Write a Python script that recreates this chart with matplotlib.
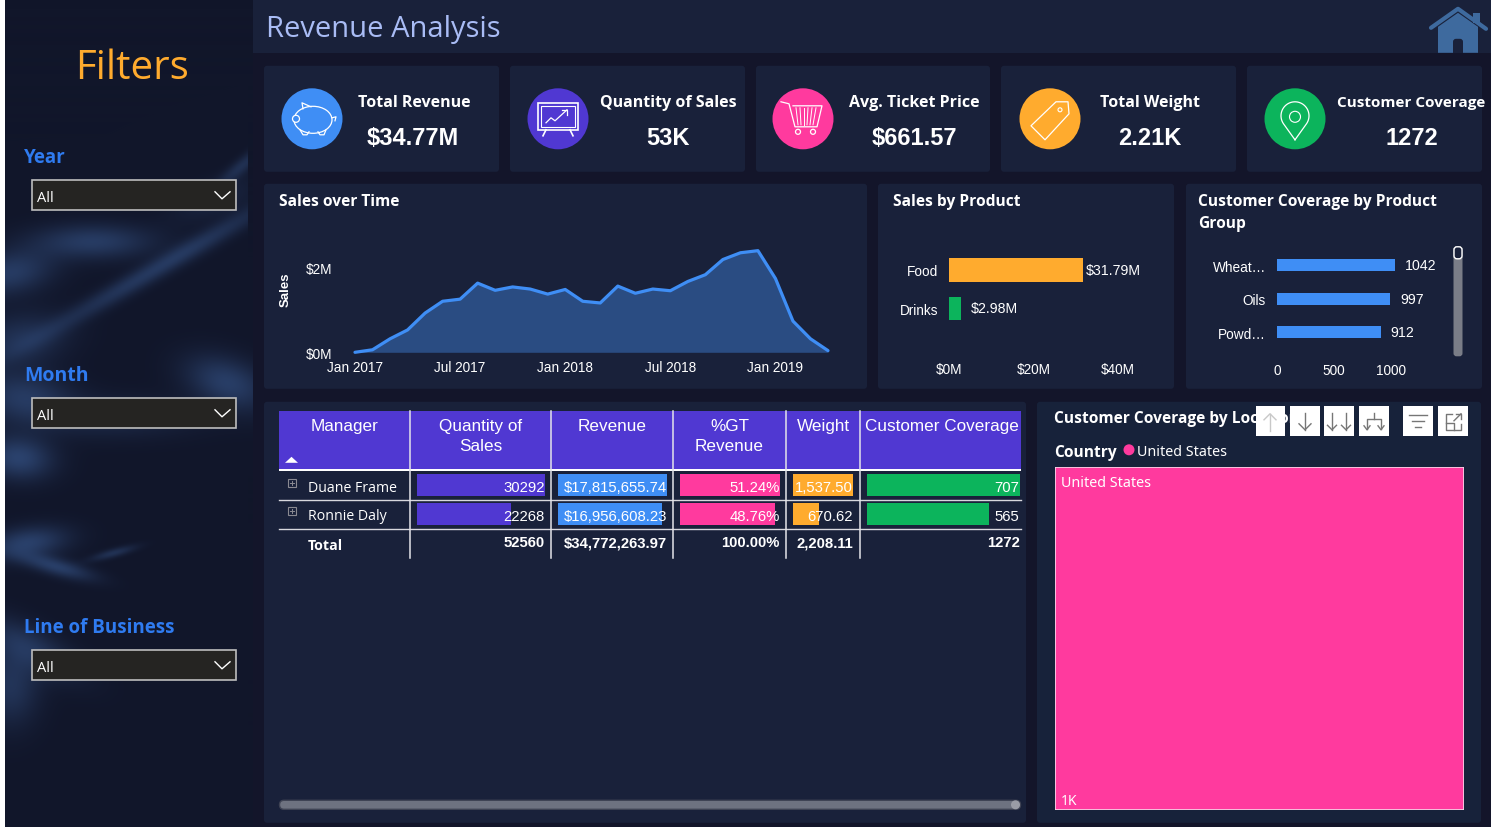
"""Revenue Analysis dashboard, redrawn with matplotlib."""
import numpy as np
import matplotlib
matplotlib.use("Agg")
import matplotlib.pyplot as plt
from matplotlib.patches import Rectangle, Ellipse, Circle, FancyBboxPatch, Polygon

W, H = 1491, 828
ARIAL = "Liberation Sans"
UI = "Open Sans"
plt.rcParams["font.family"] = ARIAL

# chart data
months = ["Jan 2017", "Feb 2017", "Mar 2017", "Apr 2017", "May 2017", "Jun 2017", "Jul 2017",
          "Aug 2017", "Sep 2017", "Oct 2017", "Nov 2017", "Dec 2017", "Jan 2018", "Feb 2018",
          "Mar 2018", "Apr 2018", "May 2018", "Jun 2018", "Jul 2018", "Aug 2018", "Sep 2018",
          "Oct 2018", "Nov 2018", "Dec 2018", "Jan 2019", "Feb 2019", "Mar 2019", "Apr 2019"]
sales_m = [0.0, 0.06, 0.32, 0.53, 0.93, 1.21, 1.26, 1.64, 1.47, 1.55, 1.50, 1.38, 1.49, 1.21,
           1.17, 1.57, 1.40, 1.50, 1.46, 1.68, 1.84, 2.20, 2.36, 2.41, 1.75, 0.74, 0.32, 0.04]
products = ["Food", "Drinks"]
product_sales = [31.79, 2.98]
groups = ["Wheat…", "Oils", "Powd…"]
group_cover = [1042, 997, 912]

kpi_titles = ["Total Revenue", "Quantity of Sales", "Avg. Ticket Price", "Total Weight", "Customer Coverage"]
kpi_values = ["$34.77M", "53K", "$661.57", "2.21K", "1272"]

managers = ["Duane Frame", "Ronnie Daly"]
qty = [30292, 22268]
revenue = [17815655.74, 16956608.23]
gt_pct = [51.24, 48.76]
weight = [1537.50, 670.62]
coverage = [707, 565]
qty_total = 52560
revenue_total = 34772263.97
gt_total = 100.00
weight_total = 2208.11
coverage_total = 1272
country = "United States"
country_cover = 1272

# colours
PAGE = "#13152A"
CARD = "#19213A"
CARD2 = "#17223A"
PURPLE = "#5038D2"
BLUE = "#3F8EF5"
PINK = "#FF3A9E"
ORANGE = "#FFAB2E"
GREEN = "#0CB45C"
YSHIFT = 0.8  # the whole layout sits a hair lower than the round pixel numbers

fig = plt.figure(figsize=(W / 100, H / 100), dpi=100, facecolor=PAGE)
ax = fig.add_axes([0, 0, 1, 1])
ax.axis("off")


def sub_axes(x0, y0, x1, y1):
    y0 += YSHIFT
    y1 += YSHIFT
    a = fig.add_axes([x0 / W, 1 - y1 / H, (x1 - x0) / W, (y1 - y0) / H], zorder=5)
    a.patch.set_alpha(0)
    for s in a.spines.values():
        s.set_visible(False)
    a.tick_params(length=0, colors="white", labelsize=9.8)
    return a


def text(x, y, s, size=10, color="white", ha="left", va="center", weight="normal", family=ARIAL, z=6, **kw):
    ax.text(x, y + 2, s, fontsize=size, color=color, ha=ha, va=va, fontweight=weight, family=family, zorder=z, **kw)


def panel(x0, y0, x1, y1, color=CARD):
    ax.add_patch(FancyBboxPatch((x0 + 3, y0 + 3), x1 - x0 - 6, y1 - y0 - 6, boxstyle="round,pad=3,rounding_size=3",
                                fc=color, ec="none", zorder=1))


# left filter pane: dark background with blurred shapes
blobs = [(93, 242, 42, 12, 0, .8), (160, 267, 95, 7, -30, .75), (243, 165, 22, 5, -40, .55), (10, 273, 30, 15, -10, .8),
         (20, 340, 32, 18, -10, .6), (227, 383, 30, 17, 20, .85), (23, 397, 32, 17, 5, .75), (110, 418, 60, 14, 0, .4),
         (18, 458, 24, 15, 5, .95), (27, 543, 28, 11, -8, .9), (57, 567, 26, 6, 15, .85), (113, 553, 16, 3, -15, .6),
         (30, 648, 38, 14, 28, .6), (10, 685, 20, 28, 0, .65), (215, 200, 32, 12, -20, .3)]
yy, xx = np.mgrid[0:H, 5:253]
glow = np.zeros(xx.shape)
for bx, by, sx, sy, ang, amp in blobs:
    t = np.radians(ang)
    u = (xx - bx) * np.cos(t) + (yy - by) * np.sin(t)
    v = -(xx - bx) * np.sin(t) + (yy - by) * np.cos(t)
    glow += amp * np.exp(-0.5 * ((u / sx) ** 2 + (v / sy) ** 2))
glow = np.clip(glow, 0, 1)
glow[((yy < 258) | ((yy > 475) & (yy < 728))) & (xx >= 248)] = 0
glow = glow[..., None]
base = np.array([0x11, 0x16, 0x2A]) / 255
lit = np.array([0x2C, 0x44, 0x70]) / 255
ax.imshow(base * (1 - glow) + lit * glow, extent=(5, 253, H, 0), aspect="auto", zorder=0.5)
ax.add_patch(Rectangle((0, -2), 5, H + 4, fc="white", ec="none", zorder=0.6))

text(132, 66, "Filters", size=29, color=ORANGE, ha="center", family=UI)
for label, ly, by, sz in [("Year", 155, 180, 13.5), ("Month", 373, 398, 14), ("Line of Business", 625, 650, 13.5)]:
    text(24, ly, label, size=sz, color="#2F7BF0", weight="bold", family=UI)
    ax.add_patch(Rectangle((31.5, by + .5), 204.5, 30, fc="#252422", ec="#BDBDBD", lw=1.2, zorder=2))
    text(37, by + 16, "All", size=10.5, family=UI)
    ax.plot([215, 222, 230], [by + 12, by + 19, by + 12], color="white", lw=1, zorder=3)

# header
ax.add_patch(Rectangle((253, -2), W - 253, 55, fc=CARD, ec="none", zorder=1))
text(266, 27, "Revenue Analysis", size=21, color="#A9BCF5", family=UI)
HOME = "#3E6A9E"
ax.plot([1431, 1458, 1486], [28, 9, 29], color=HOME, lw=3, solid_capstyle="round", zorder=3)
ax.add_patch(Rectangle((1473, 13), 7, 10, fc=HOME, ec="none", zorder=3))
ax.add_patch(Polygon([(1438, 53), (1438, 27), (1458, 13), (1478, 27), (1478, 53)], fc=HOME, ec="none", zorder=3))
ax.add_patch(FancyBboxPatch((1454, 40), 8, 16, boxstyle="round,pad=1,rounding_size=3", fc=CARD, ec="none", zorder=3))
ax.add_patch(Rectangle((1430, 53), 60, 12, fc=PAGE, ec="none", zorder=3.1))

# KPI cards
card_x = [(264, 499), (510, 745), (756, 990), (1001, 1236), (1247, 1482)]
circle_x = [312, 558, 803, 1050, 1295]
circle_c = [BLUE, PURPLE, PINK, ORANGE, GREEN]
title_x = [414, 668, 914, 1150, 1411.5]
for i in range(5):
    panel(card_x[i][0], 66, card_x[i][1], 172)
    ax.add_patch(Circle((circle_x[i], 119), 30.5, fc=circle_c[i], ec="none", zorder=2))
    text(title_x[i], 100, kpi_titles[i], size=11.5 if i < 4 else 11, weight="bold", ha="center", family=UI)
    text(title_x[i] - 1 if i == 0 else title_x[i], 136, kpi_values[i], size=17, weight="bold", ha="center")

# piggy bank
ax.add_patch(Ellipse((313, 120), 38, 27, ec="white", fc="none", lw=0.9, zorder=3))
ax.add_patch(Circle((296, 119), 3.5, ec="white", fc=BLUE, lw=0.9, zorder=3))
ax.plot([303, 302, 311], [109, 103, 107], color="white", lw=0.9, zorder=3)
ax.plot([300, 303, 307, 309], [130, 135, 135, 132], color="white", lw=0.9, zorder=3)
ax.plot([318, 320, 324, 326], [132, 135, 135, 130], color="white", lw=0.9, zorder=3)
ax.plot([332, 336, 335], [118, 117, 121], color="white", lw=0.9, zorder=3)
# presentation board
ax.add_patch(Rectangle((538, 103), 40, 27, ec="white", fc="none", lw=1.2, zorder=3))
ax.add_patch(Rectangle((541, 106), 34, 21, ec="white", fc="none", lw=0.8, zorder=3))
ax.plot([546, 551, 555, 567], [123, 118, 121, 110], color="white", lw=0.9, zorder=3)
ax.plot([562, 567, 567], [110, 110, 115], color="white", lw=0.9, zorder=3)
ax.plot([546, 543], [130, 136], color="white", lw=1.2, zorder=3)
ax.plot([570, 573], [130, 136], color="white", lw=1.2, zorder=3)
# cart
ax.plot([781, 789, 795, 817, 822, 793], [102, 104, 127, 127, 106, 106], color="white", lw=0.9, zorder=3)
for cx in (798, 813):
    ax.add_patch(Circle((cx, 132), 2.5, ec="white", fc="none", lw=0.9, zorder=3))
for k in range(6):
    ax.plot([796 + k * 4, 798 + k * 3], [108, 125], color="white", lw=0.7, zorder=3)
# price tag
ax.add_patch(Polygon([(1068, 102), (1069, 114), (1045, 140), (1031, 126), (1056, 102)], ec="white", fc="none", lw=0.9,
                     joinstyle="round", zorder=3))
ax.add_patch(Circle((1060, 110), 2, ec="white", fc="none", lw=0.8, zorder=3))
# map pin
ax.add_patch(Circle((1295, 117), 5.5, ec="white", fc="none", lw=0.8, zorder=3))
pin_t = np.radians(np.linspace(-35, 215, 40))
ax.plot(np.r_[1295, 1295 + 14 * np.cos(pin_t), 1295], np.r_[140, 116 - 14 * np.sin(pin_t), 140],
        color="white", lw=0.9, zorder=3)

# chart panels
panel(264, 184, 867, 389)
panel(878, 184, 1174, 389)
panel(1186, 184, 1482, 389)
panel(264, 402, 1026, 823)
panel(1037, 402, 1481, 823, CARD2)
text(279, 199, "Sales over Time", size=11.2, weight="bold", family=UI)
text(893, 199, "Sales by Product", size=11.2, weight="bold", family=UI)
text(1198, 199, "Customer Coverage by Product", size=11.2, weight="bold", family=UI)
text(1198, 221, "Group", size=11.2, weight="bold", family=UI)

# Sales over Time
a = sub_axes(355, 243, 828, 352.5)
x = np.arange(len(months))
a.fill_between(x, sales_m, color="#2A4C82", lw=0)
a.plot(x, sales_m, color=BLUE, lw=2.3, solid_capstyle="round", clip_on=False)
a.set_xlim(0, len(months) - 1)
a.set_ylim(0, 109.5 / 42.17)
a.set_xticks(x[::6], months[::6])
a.set_yticks([0, 2], ["$0M", "$2M"])
a.tick_params(axis="x", pad=5.5)
a.tick_params(axis="y", pad=16.5)
ax.text(286, 289, "Sales", fontsize=9.5, fontweight="bold", color="white", rotation=90, ha="center", va="center", zorder=6)

# Sales by Product
a = sub_axes(948.7, 251, 1130, 327.7)
a.barh(products, product_sales, height=0.61, color=[ORANGE, GREEN])
a.set_ylim(1.5, -0.5)
a.set_xlim(0, 181.3 / 4.235)
a.set_xticks([0, 20, 40], ["$0M", "$20M", "$40M"])
a.tick_params(axis="x", pad=25)
a.tick_params(axis="y", pad=7.7)
for i, v in enumerate(product_sales):
    a.annotate(f"${v:.2f}M", (v, i), xytext=(1.5 if i == 0 else 6.8, 0), textcoords="offset points",
               color="white", fontsize=10.2, va="center")

# Customer Coverage by Product Group
a = sub_axes(1277.3, 248.5, 1440, 349)
a.barh(groups, group_cover, height=12 / 33.5, color=BLUE)
a.set_ylim(2.5, -0.5)
a.set_xlim(0, 162.7 / 0.1133)
a.set_xticks([0, 500, 1000])
a.tick_params(axis="x", pad=10)
a.tick_params(axis="y", pad=8.3)
for i, v in enumerate(group_cover):
    a.annotate(str(v), (v, i), xytext=(7, 0), textcoords="offset points", color="white", fontsize=10.2, va="center")
ax.add_patch(FancyBboxPatch((1455, 248), 6, 107, boxstyle="round,pad=1.5,rounding_size=3", fc="#7A7D87", ec="none", zorder=3))
ax.add_patch(FancyBboxPatch((1455, 248), 6, 10, boxstyle="round,pad=1,rounding_size=3", fc=CARD, ec="white", lw=1, zorder=4))

# matrix table
col_lines = [279, 410, 551, 673, 786, 860, 1021]
ax.add_patch(Rectangle((279, 411), 742, 58, fc=PURPLE, ec="none", zorder=2))
ax.add_patch(Rectangle((279, 469), 742, 2.5, fc="white", ec="none", zorder=3))
for ry in (500, 529):
    ax.plot([279, 1021], [ry, ry], color="#D8D8DE", lw=1, zorder=3)
for cx in col_lines[1:-1]:
    ax.plot([cx, cx], [411, 558], color="#E4E4EA", lw=1.1, zorder=4)
headers = [("Manager",), ("Quantity of", "Sales"), ("Revenue",), ("%GT", "Revenue"), ("Weight",), ("Customer Coverage",)]
for i, h in enumerate(headers):
    for j, part in enumerate(h):
        text((col_lines[i] + col_lines[i + 1]) / 2 + (1 if i == 5 else 0), 424 + j * 20, part, size=12.3, ha="center", z=5)
ax.add_patch(Polygon([(285, 463), (298, 463), (291.5, 457)], fc="white", ec="none", zorder=5))

cells = [(417, 544.5, qty, PURPLE, "{:d}", 545),
         (557.7, 667, revenue, BLUE, "${:,.2f}", 667),
         (679.6, 779.6, gt_pct, PINK, "{:.2f}%", 780),
         (793, 853, weight, ORANGE, "{:,.2f}", 853),
         (866.5, 1019.6, coverage, GREEN, "{:d}", 1019.5)]
row_mid = [485.5, 514]
for c0, c1, vals, col, fmt, right in cells:
    full = c1 - c0
    ax.barh(row_mid, [v / max(vals) * full for v in vals], left=c0, height=22, color=col, zorder=3)
    for ym, v in zip(row_mid, vals):
        text(right, ym, fmt.format(v), size=10.7, ha="right")
for ym, name in zip(row_mid, managers):
    text(308, ym, name, size=10.2, family=UI)
    ax.add_patch(Rectangle((287.5, ym - 6.5), 8, 8, fc="none", ec="#8A8A92", lw=0.8, zorder=4))
    ax.plot([289.5, 293.5], [ym - 2.5, ym - 2.5], color="#8A8A92", lw=0.7, zorder=4)
    ax.plot([291.5, 291.5], [ym - 4.5, ym - 0.5], color="#8A8A92", lw=0.7, zorder=4)
text(308, 543, "Total", size=10.2, weight="bold", family=UI)
for right, s in zip([545, 667, 780, 853, 1019.5],
                    [f"{qty_total:d}", f"${revenue_total:,.2f}", f"{gt_total:.2f}%", f"{weight_total:,.2f}", f"{coverage_total:d}"]):
    text(right, 540.5, s, size=10.7, weight="bold", ha="right")
ax.add_patch(FancyBboxPatch((279.5, 800.5), 741, 9, boxstyle="round,pad=0,rounding_size=4.5", fc="#6E7280", ec="#3F4354", lw=1,
                            zorder=3))
ax.add_patch(Circle((1015.5, 805), 4.5, fc="#9A9CA6", ec="none", zorder=3.5))

# treemap
text(1054, 416, "Customer Coverage by Location", size=11.2, weight="bold", family=UI)
text(1054, 450, "Country", size=11.2, weight="bold", family=UI)
ax.add_patch(Circle((1129, 450), 5.5, fc=PINK, ec="none", zorder=3))
text(1137, 450, country, size=10.3, family="Noto Sans")
a = sub_axes(1054.5, 467, 1463.5, 810)
a.bar([0], [country_cover], width=1, color=PINK, edgecolor="#F6D8E8", linewidth=1.2)
a.set_xlim(-0.5, 0.5)
a.set_ylim(0, country_cover)
a.set_xticks([])
a.set_yticks([])
a.text(0.015, 0.975, country, transform=a.transAxes, color="white", fontsize=10.3, family="Noto Sans", va="top")
a.text(0.015, 0.006, f"{country_cover / 1000:.0f}K", transform=a.transAxes, color="white", fontsize=10, family="Noto Sans", va="bottom")

# visual header buttons, on top of the treemap title
buttons = [(1255.5, 1285), (1289.5, 1320), (1324, 1354), (1358.5, 1389), (1403, 1433), (1437.5, 1468)]
for b0, b1 in buttons:
    ax.add_patch(Rectangle((b0, 406), b1 - b0, 30, fc="white", ec="none", zorder=7))
GREY = "#767676"


def arrow(ax_x, half=6, col=GREY):
    ax.plot([ax_x, ax_x], [413, 430], color=col, lw=1, zorder=8)
    ax.plot([ax_x - half, ax_x, ax_x + half], [430 - half, 430, 430 - half], color=col, lw=1, zorder=8)


ax.plot([1270, 1270], [414, 431], color="#C8C8C8", lw=1, zorder=8)
ax.plot([1264, 1270, 1276], [420, 414, 420], color="#C8C8C8", lw=1, zorder=8)
arrow(1305)
arrow(1332, 4.5)
arrow(1346, 4.5)
ax.plot([1374, 1374], [413, 419], color=GREY, lw=1, zorder=8)
ax.plot([1367, 1367, 1381, 1381], [429, 419, 419, 429], color=GREY, lw=1, zorder=8)
ax.plot([1364, 1367, 1370], [426, 430, 426], color=GREY, lw=1, zorder=8)
ax.plot([1378, 1381, 1384], [426, 430, 426], color=GREY, lw=1, zorder=8)
for half, fy in [(9, 415), (6, 421), (3, 427)]:
    ax.plot([1418 - half, 1418 + half], [fy, fy], color=GREY, lw=1, zorder=8)
ax.plot([1452, 1446, 1446, 1461, 1461], [414, 414, 430, 430, 424], color=GREY, lw=1, zorder=8)
ax.plot([1446, 1454, 1454], [423, 423, 430], color=GREY, lw=1, zorder=8)
ax.plot([1454, 1461], [421, 414], color=GREY, lw=1, zorder=8)
ax.plot([1456, 1461, 1461], [414, 414, 419], color=GREY, lw=1, zorder=8)

ax.set_xlim(0, W)
ax.set_ylim(H - YSHIFT, -YSHIFT)
fig.savefig("out.png", dpi=100, facecolor=PAGE)
